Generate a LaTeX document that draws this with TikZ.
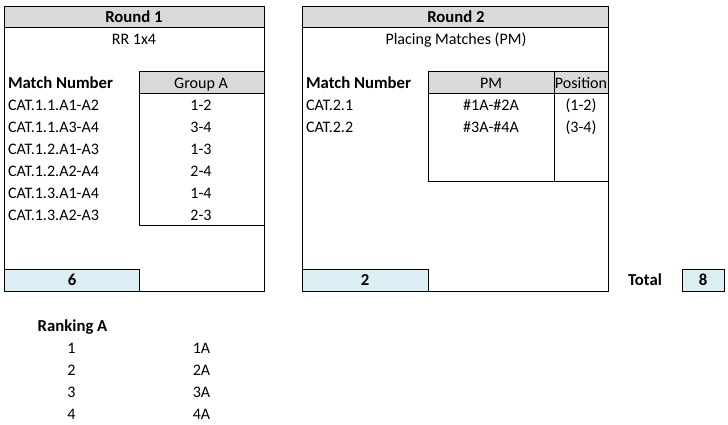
\documentclass[tikz,border=0pt]{standalone}
\usepackage{fontspec}
\setmainfont{Carlito}
\definecolor{hdrgray}{HTML}{D9D9D9}
\definecolor{sumblue}{HTML}{DAEEF3}
\begin{document}
\begin{tikzpicture}[x=1bp,y=-1bp,
  every node/.style={inner sep=0pt, outer sep=0pt, font=\fontsize{16.1}{19}\selectfont},
  cell/.style={draw=black, line width=0.9bp},
  hdr/.style={cell, fill=hdrgray},
  sumcell/.style={cell, fill=sumblue},
  lbl/.style={anchor=base west},
  ctr/.style={anchor=base},
  bld/.style={font=\fontsize{16.8}{19}\selectfont\bfseries}]
\useasboundingbox (0,0) rectangle (728,424);
% Round 1 frame
\draw[cell] (4,6) rectangle (264,291);
\draw[hdr] (4,6) rectangle (264,27);
\draw[hdr] (139,71.5) rectangle (264,93);
\draw[cell] (139,93) rectangle (264,225);
\draw[sumcell] (4,269) rectangle (139,291);
% Round 2 frame
\draw[cell] (302,6) rectangle (608,291);
\draw[hdr] (302,6) rectangle (608,27);
\draw[hdr] (428,71.5) rectangle (554,93);
\draw[hdr] (554,71.5) rectangle (608,93);
\draw[cell] (428,93) rectangle (554,181.5);
\draw[cell] (554,93) rectangle (608,181.5);
\draw[sumcell] (302,269) rectangle (428,291);
\draw[sumcell] (682,269) rectangle (724,291);
% Round 1 texts
\node[ctr,bld] (r1) at (134,22.5) {Round 1};
\node[ctr] (rr) at (134,44.5) {RR 1x4};
\node[lbl,bld] (mn1) at (8,88) {Match Number};
\node[ctr] (ga) at (201,88) {Group A};
\node[lbl] (m1) at (8,110.5) {CAT.1.1.A1-A2};
\node[lbl] (m2) at (8,132.5) {CAT.1.1.A3-A4};
\node[lbl] (m3) at (8,154.5) {CAT.1.2.A1-A3};
\node[lbl] (m4) at (8,176.5) {CAT.1.2.A2-A4};
\node[lbl] (m5) at (8,198.5) {CAT.1.3.A1-A4};
\node[lbl] (m6) at (8,220.5) {CAT.1.3.A2-A3};
\node[ctr] (g1) at (201,110.5) {1-2};
\node[ctr] (g2) at (201,132.5) {3-4};
\node[ctr] (g3) at (201,154.5) {1-3};
\node[ctr] (g4) at (201,176.5) {2-4};
\node[ctr] (g5) at (201,198.5) {1-4};
\node[ctr] (g6) at (201,220.5) {2-3};
\node[ctr,bld] (s1) at (72,285.3) {6};
% Round 2 texts
\node[ctr,bld] (r2) at (456,22.5) {Round 2};
\node[ctr] (pmt) at (456,44.5) {Placing Matches (PM)};
\node[lbl,bld] (mn2) at (306,88) {Match Number};
\node[ctr] (pmh) at (491,88) {PM};
\node[ctr] (poh) at (581,88) {Position};
\node[lbl] (c1) at (306,110.5) {CAT.2.1};
\node[lbl] (c2) at (306,132.5) {CAT.2.2};
\node[ctr] (p1) at (491,110.5) {\#1A-\#2A};
\node[ctr] (p2) at (491,132.5) {\#3A-\#4A};
\node[ctr] (q1) at (581,110.5) {(1-2)};
\node[ctr] (q2) at (581,132.5) {(3-4)};
\node[ctr,bld] (s2) at (365,285.3) {2};
\node[ctr,bld] (tot) at (645,285.3) {Total};
\node[ctr,bld] (s3) at (703,285.3) {8};
% Ranking
\node[lbl,bld] (rk) at (37.7,331) {Ranking A};
\node[ctr] (k1) at (71.5,353.3) {1};
\node[ctr] (k2) at (71.5,375.3) {2};
\node[ctr] (k3) at (71.5,397.3) {3};
\node[ctr] (k4) at (71.5,419.3) {4};
\node[ctr] (a1) at (201.5,353.3) {1A};
\node[ctr] (a2) at (201.5,375.3) {2A};
\node[ctr] (a3) at (201.5,397.3) {3A};
\node[ctr] (a4) at (201.5,419.3) {4A};
\end{tikzpicture}
\end{document}
